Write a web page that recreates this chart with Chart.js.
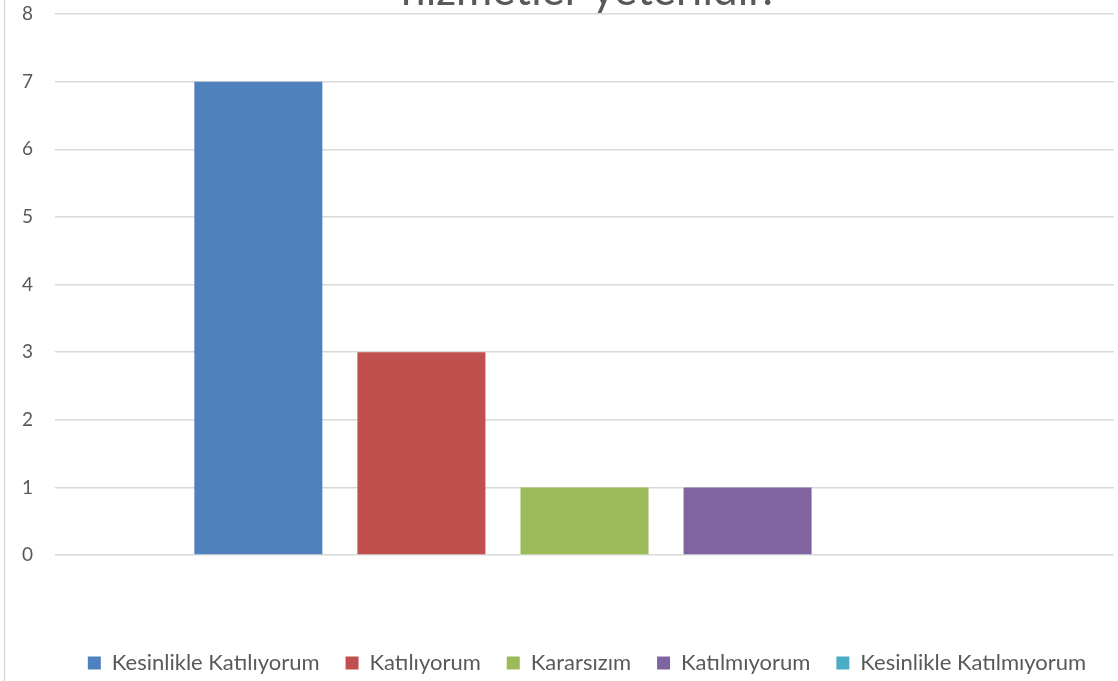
<!DOCTYPE html>
<html>
<head>
<meta charset="utf-8">
<script src="https://cdn.jsdelivr.net/npm/chart.js@4.4.1/dist/chart.umd.min.js"></script>
<style>
    html, body { margin: 0; padding: 0; background: #ffffff; }
    #wrap { width: 1118px; height: 681px; position: relative; }
</style>
</head>
<body>
<div id="wrap"><canvas id="surveyChart"></canvas></div>
<script>
// data
const categories = [''];
const seriesNames = ['Kesinlikle Katılıyorum', 'Katılıyorum', 'Kararsızım', 'Katılmıyorum', 'Kesinlikle Katılmıyorum'];
const seriesValues = [7, 3, 1, 1, 0];
const seriesColors = ['#4f81bd', '#c0504d', '#9bbb59', '#8064a2', '#4bacc6'];
const yTicks = [0, 1, 2, 3, 4, 5, 6, 7, 8];
const titleText = 'hizmetler yeterlidir.';

const FONT = 'Lato, "Open Sans", sans-serif';
const TEXT_GREY = '#595959';

// title sits mostly above the visible area, only its lower part shows
const cutTitle = {
    id: 'cutTitle',
    afterLayout(chart) {
        // legend in the reference is centred on the plot, a bit lower
        const lg = chart.legend;
        if (lg) {
            lg.left += 30;
            lg.right += 30;
            lg.top += 5;
            lg.bottom += 5;
        }
    },
    afterDraw(chart) {
        const ctx = chart.ctx;
        ctx.save();
        ctx.font = '44px ' + FONT;
        ctx.fillStyle = TEXT_GREY;
        ctx.textAlign = 'center';
        ctx.textBaseline = 'alphabetic';
        ctx.fillText(titleText, 587, 5);
        // chart area border on the left
        ctx.strokeStyle = '#d9d9d9';
        ctx.lineWidth = 1.5;
        ctx.beginPath();
        ctx.moveTo(4.5, 0);
        ctx.lineTo(4.5, chart.height);
        ctx.stroke();
        ctx.restore();
    }
};

new Chart(document.getElementById('surveyChart'), {
    type: 'bar',
    data: {
        labels: categories,
        datasets: seriesNames.map((name, i) => ({
            label: name,
            data: [seriesValues[i]],
            backgroundColor: seriesColors[i],
            borderWidth: 0
        }))
    },
    options: {
        responsive: true,
        maintainAspectRatio: false,
        animation: false,
        categoryPercentage: 0.77,
        barPercentage: 0.785,
        layout: {
            padding: { top: 14, right: 4, bottom: 2, left: 0 }
        },
        plugins: {
            title: { display: false },
            tooltip: { enabled: false },
            legend: {
                position: 'bottom',
                labels: {
                    boxWidth: 13,
                    boxHeight: 13,
                    padding: 26,
                    color: TEXT_GREY,
                    font: { family: FONT, size: 22 }
                }
            }
        },
        scales: {
            x: {
                grid: { display: false },
                border: { display: false },
                ticks: { display: false },
                afterFit(scale) { scale.height = 66; }
            },
            y: {
                min: 0,
                max: 8,
                afterBuildTicks(scale) {
                    scale.ticks = yTicks.map((v) => ({ value: v }));
                },
                afterFit(scale) {
                    scale.width = 55;
                    scale.paddingTop = 0;
                    scale.paddingBottom = 0;
                },
                border: { display: false },
                grid: { color: '#d9d9d9', lineWidth: 1.5, drawTicks: false },
                ticks: {
                    padding: 22,
                    color: TEXT_GREY,
                    font: { family: FONT, size: 19 }
                }
            }
        }
    },
    plugins: [cutTitle]
});
</script>
</body>
</html>
